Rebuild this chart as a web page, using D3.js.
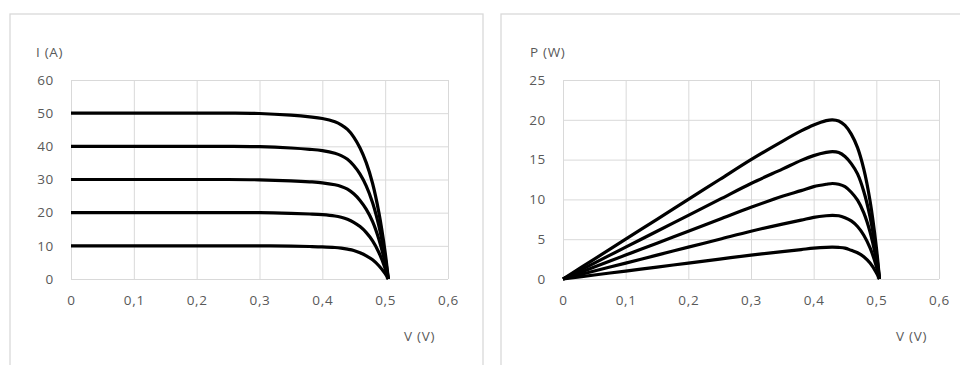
<!DOCTYPE html>
<html>
<head>
<meta charset="utf-8">
<script src="https://cdn.jsdelivr.net/npm/d3@7"></script>
<style>
  html, body { margin: 0; padding: 0; background: #fff; }
  svg { display: block; }
  text { font-family: "Open Sans", "Noto Sans", sans-serif; font-size: 13.5px; fill: #595959; letter-spacing: 0.7px; }
  .grid line { stroke: #d9d9d9; stroke-width: 1; }
  .frame { fill: none; stroke: #d9d9d9; stroke-width: 1.3; }
  .curve { fill: none; stroke: #000; stroke-width: 3.2; stroke-linejoin: round; }
</style>
</head>
<body>
<svg id="chart" width="960" height="365"></svg>
<script>
// Data
const voltage = [0, 0.05, 0.1, 0.15, 0.2, 0.25, 0.3, 0.35, 0.38, 0.4, 0.42, 0.43, 0.44, 0.45, 0.46, 0.47, 0.48, 0.49, 0.5, 0.505];

const current50 = [50, 50, 50, 50, 50, 50, 49.9, 49.4, 48.9, 48.4, 47.4, 46.5, 45.1, 42.8, 39.5, 35.0, 28.8, 20.0, 8.0, 0];
const current40 = [40, 40, 40, 40, 40, 40, 39.9, 39.5, 39.1, 38.7, 37.9, 37.2, 36.1, 34.2, 31.6, 28.0, 23.0, 16.0, 6.4, 0];
const current30 = [30, 30, 30, 30, 30, 30, 29.9, 29.6, 29.3, 29.0, 28.4, 27.9, 27.1, 25.7, 23.7, 21.0, 17.3, 12.0, 4.8, 0];
const current20 = [20, 20, 20, 20, 20, 20, 20.0, 19.8, 19.6, 19.4, 19.0, 18.6, 18.0, 17.1, 15.8, 14.0, 11.5, 8.0, 3.2, 0];
const current10 = [10, 10, 10, 10, 10, 10, 10.0, 9.9, 9.8, 9.7, 9.5, 9.3, 9.0, 8.6, 7.9, 7.0, 5.8, 4.0, 1.6, 0];

const power50 = [0, 2.5, 5, 7.5, 10, 12.5, 15.0, 17.3, 18.6, 19.35, 19.9, 20.0, 19.85, 19.3, 18.2, 16.5, 13.8, 9.8, 4.0, 0];
const power40 = [0, 2, 4, 6, 8, 10, 12.0, 13.8, 14.9, 15.5, 15.9, 16.0, 15.9, 15.4, 14.5, 13.2, 11.0, 7.8, 3.2, 0];
const power30 = [0, 1.5, 3, 4.5, 6, 7.5, 9.0, 10.4, 11.1, 11.6, 11.9, 12.0, 11.9, 11.6, 10.9, 9.9, 8.3, 5.9, 2.4, 0];
const power20 = [0, 1, 2, 3, 4, 5, 6.0, 6.9, 7.4, 7.75, 7.95, 8.0, 7.95, 7.7, 7.3, 6.6, 5.5, 3.9, 1.6, 0];
const power10 = [0, 0.5, 1, 1.5, 2, 2.5, 3.0, 3.45, 3.7, 3.87, 3.98, 4.0, 3.97, 3.88, 3.6, 3.3, 2.8, 2.0, 0.8, 0];

const xTicks = [0, 0.1, 0.2, 0.3, 0.4, 0.5, 0.6];
const iTicks = [0, 10, 20, 30, 40, 50, 60];
const pTicks = [0, 5, 10, 15, 20, 25];

const svg = d3.select("#chart");
const commaFmt = d => String(d).replace(".", ",");

function panel(opt) {
  // outer chart frame
  svg.append("rect").attr("class", "frame")
    .attr("x", opt.frame[0]).attr("y", opt.frame[1])
    .attr("width", opt.frame[2]).attr("height", opt.frame[3]);

  const x = d3.scaleLinear().domain([0, 0.6]).range([opt.left, opt.right]);
  const y = d3.scaleLinear().domain([0, opt.yMax]).range([opt.bottom, opt.top]);

  const g = svg.append("g");

  // vertical gridlines
  g.append("g").attr("class", "grid")
    .attr("transform", `translate(0,${opt.bottom})`)
    .call(d3.axisBottom(x).tickValues(xTicks).tickSize(-(opt.bottom - opt.top)).tickFormat(""))
    .call(a => a.select(".domain").remove());

  // horizontal gridlines
  g.append("g").attr("class", "grid")
    .attr("transform", `translate(${opt.left},0)`)
    .call(d3.axisLeft(y).tickValues(opt.yTicks).tickSize(-(opt.right - opt.left)).tickFormat(""))
    .call(a => a.select(".domain").remove());

  // x tick labels
  g.append("g")
    .attr("transform", `translate(0,${opt.bottom})`)
    .call(d3.axisBottom(x).tickValues(xTicks).tickSize(0).tickPadding(16).tickFormat(commaFmt))
    .call(a => a.select(".domain").remove());

  // y tick labels
  g.append("g")
    .attr("transform", `translate(${opt.left},0)`)
    .call(d3.axisLeft(y).tickValues(opt.yTicks).tickSize(0).tickPadding(opt.yPad))
    .call(a => a.select(".domain").remove());

  const line = d3.line()
    .x((d, i) => x(voltage[i]))
    .y(d => y(d))
    .curve(d3.curveCatmullRom.alpha(0.5));

  g.append("g").selectAll("path")
    .data(opt.series)
    .join("path")
    .attr("class", "curve")
    .attr("d", d => line(d));

  // axis titles
  svg.append("text").attr("x", opt.yTitle[0]).attr("y", opt.yTitle[1]).text(opt.yLabel);
  svg.append("text").attr("x", opt.xTitle[0]).attr("y", opt.xTitle[1]).text("V (V)");
}

panel({
  frame: [10, 14, 473, 360],
  left: 71, right: 448, top: 80, bottom: 279,
  yMax: 60, yTicks: iTicks, yPad: 17,
  series: [current50, current40, current30, current20, current10],
  yLabel: "I (A)", yTitle: [36, 57],
  xTitle: [404, 341]
});

panel({
  frame: [501, 14, 470, 360],
  left: 563, right: 939, top: 80, bottom: 279,
  yMax: 25, yTicks: pTicks, yPad: 17,
  series: [power50, power40, power30, power20, power10],
  yLabel: "P (W)", yTitle: [530, 57],
  xTitle: [896, 341]
});
</script>
</body>
</html>
